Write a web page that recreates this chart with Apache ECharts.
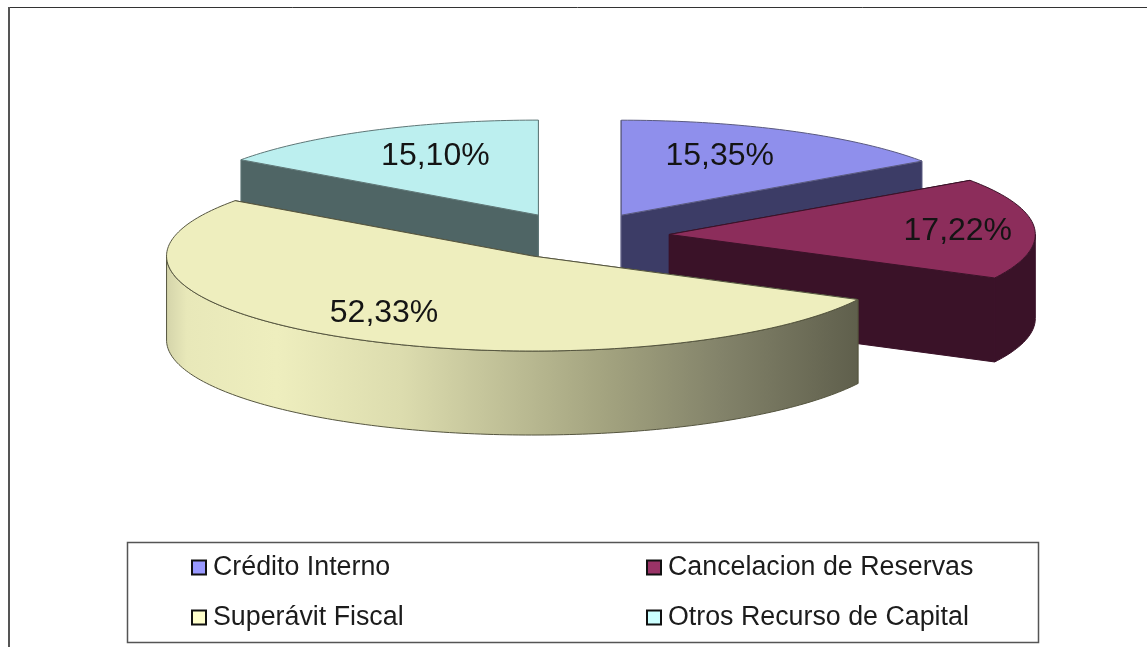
<!DOCTYPE html>
<html>
<head>
<meta charset="utf-8">
<style>html,body{margin:0;padding:0;background:#fff}#c{width:1147px;height:647px}</style>
<script src="https://cdn.jsdelivr.net/npm/echarts@6/dist/echarts.min.js"></script>
</head>
<body>
<div id="c"></div>
<script>
// Data
const categories = ['Crédito Interno', 'Cancelacion de Reservas', 'Superávit Fiscal', 'Otros Recurso de Capital'];
const values = [15.35, 17.22, 52.33, 15.10];
const labels = ['15,35%', '17,22%', '52,33%', '15,10%'];

// Styles and layout
const topColors = ['#8f8fec', '#8c2d5b', '#eeeebe', '#bcefef'];
const legendColors = ['#9999ff', '#993366', '#ffffcc', '#ccffff'];
const wallColors = ['#3c3c66', '#3a1228', null, '#4f6565'];
const edgeColors = ['#5a5a80', '#3a1228', '#55553f', '#5f7777'];
const labelOffsets = [[98.5, -59], [288.5, -3], [-148.5, 57], [-103, -59]];
const paintOrder = [3, 0, 1, 2];
const CX = 579.5, CY = 236, RX = 366, RY = 95, DEPTH = 84, EXPLODE = 90;
const FONT = '"Liberation Sans", Arial, sans-serif';

const total = values.reduce((a, b) => a + b, 0);
const starts = values.map((_, i) => values.slice(0, i).reduce((a, b) => a + b, 0));
const rad = d => d * Math.PI / 180;

function rimPoint(ax, ay, deg, dy) {
  return [ax + RX * Math.sin(rad(deg)), ay - RY * Math.cos(rad(deg)) + dy];
}
function arc(ax, ay, from, to, dy) {
  const pts = [], n = Math.max(2, Math.ceil(Math.abs(to - from)));
  for (let k = 0; k <= n; k++) pts.push(rimPoint(ax, ay, from + (to - from) * k / n, dy));
  return pts;
}
const sideGradient = {
  type: 'linear', x: 0, y: 0, x2: 1, y2: 0,
  colorStops: [
    { offset: 0, color: '#d4d4aa' }, { offset: 0.03, color: '#e8e8b9' }, { offset: 0.16, color: '#eeeebe' },
    { offset: 0.34, color: '#dcdcae' }, { offset: 0.63, color: '#a4a480' }, { offset: 0.8, color: '#83836a' },
    { offset: 1, color: '#5f5f4c' }
  ]
};

function renderSlice(params, api) {
  const i = api.value(2);
  const a0 = api.value(1) / total * 360;
  const a1 = (api.value(1) + api.value(0)) / total * 360;
  const mid = (a0 + a1) / 2;
  const ax = CX + EXPLODE * Math.sin(rad(mid));
  const ay = CY - EXPLODE * (95 / 364) * Math.cos(rad(mid));
  const wall = wallColors[i] || sideGradient;
  const line = { stroke: edgeColors[i], lineWidth: 1 };
  const poly = (points, fill, z2) => ({
    type: 'polygon', z2, shape: { points }, style: Object.assign({ fill }, line), silent: true
  });
  const cutWall = deg => {
    const r = rimPoint(ax, ay, deg, 0), b = rimPoint(ax, ay, deg, DEPTH);
    return poly([[ax, ay], r, b, [ax, ay + DEPTH]], wall, 1);
  };
  const children = [cutWall(a0), cutWall(a1)];
  const f = Math.max(a0, 90), t = Math.min(a1, 270);
  if (t > f) {
    children.push(poly(arc(ax, ay, f, t, 0).concat(arc(ax, ay, t, f, DEPTH)), wall, 2));
  }
  children.push(poly([[ax, ay]].concat(arc(ax, ay, a0, a1, 0)), topColors[i], 3));
  children.push({
    type: 'text', z2: 4, silent: true,
    style: {
      x: ax + labelOffsets[i][0], y: ay + labelOffsets[i][1], text: labels[i],
      fill: '#141414', font: '32px ' + FONT, align: 'center', verticalAlign: 'middle'
    }
  });
  return { type: 'group', children };
}

const series = paintOrder.map((i, order) => ({
  type: 'custom', name: categories[i], coordinateSystem: 'none', z: order + 2,
  silent: true, animation: false,
  itemStyle: { color: legendColors[i] },
  renderItem: renderSlice,
  data: [[values[i], starts[i], i]]
}));

const legendItem = i => ({
  name: categories[i], icon: 'rect',
  itemStyle: { color: legendColors[i], borderColor: '#111', borderWidth: 2 }
});
const legendBase = {
  orient: 'vertical', top: 554, padding: 0, itemWidth: 14, itemHeight: 14, itemGap: 23, selectedMode: false,
  textStyle: { fontFamily: FONT, fontSize: 26.8, color: '#1c1c1c', lineHeight: 27, padding: [0, 0, 0, 2] }
};

const chart = echarts.init(document.getElementById('c'), null, { renderer: 'canvas' });
chart.setOption({
  animation: false,
  backgroundColor: '#fff',
  legend: [
    Object.assign({}, legendBase, { left: 191, data: [0, 2].map(legendItem) }),
    Object.assign({}, legendBase, { left: 646, data: [1, 3].map(legendItem) })
  ],
  graphic: [
    { type: 'line', shape: { x1: 8, y1: 7.5, x2: 1147, y2: 7.5 }, style: { stroke: '#333', lineWidth: 1 }, silent: true },
    { type: 'line', shape: { x1: 9, y1: 7, x2: 9, y2: 647 }, style: { stroke: '#555', lineWidth: 2 }, silent: true },
    { type: 'rect', shape: { x: 127.5, y: 542.5, width: 911, height: 100 }, style: { fill: '#fff', stroke: '#555', lineWidth: 1.5 }, z: 0, silent: true }
  ],
  series
});
</script>
</body>
</html>
